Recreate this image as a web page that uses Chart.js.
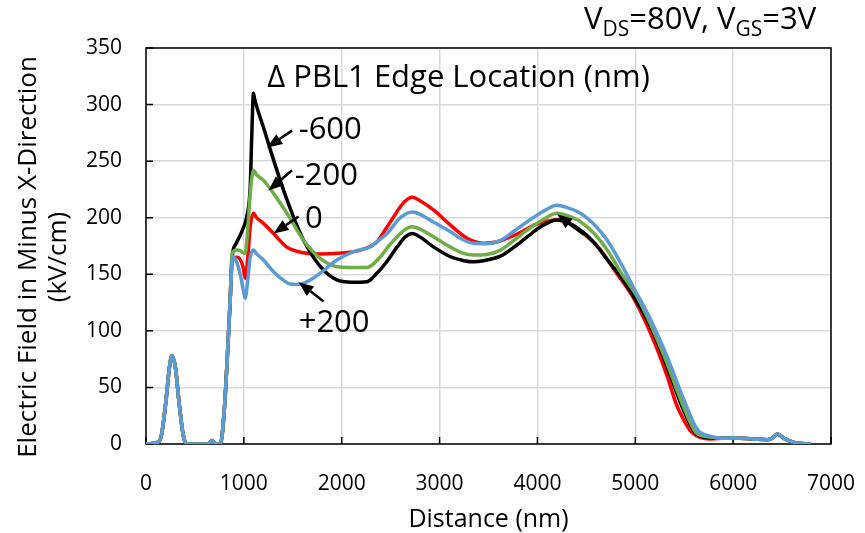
<!DOCTYPE html>
<html>
<head>
<meta charset="utf-8">
<script src="https://cdn.jsdelivr.net/npm/chart.js@4.4.0/dist/chart.umd.min.js"></script>
<style>
  html, body { margin: 0; padding: 0; background: #fff; }
  #wrap { width: 865px; height: 533px; position: relative; }
</style>
</head>
<body>
<div id="wrap"><canvas id="chart"></canvas></div>
<script>
// shared part of the profile (all four curves sit on top of each other here)
const commonX = [0, 100, 150, 200, 240, 264, 300, 340, 380, 417, 500, 640, 673, 710, 760, 800, 830, 860];
const commonY = [0, 1, 5, 35, 68, 78, 68, 35, 8, 0, 0, 0, 3, 0, 0, 30, 75, 127];
const tailX = [5900, 6008, 6200, 6350, 6400, 6452, 6520, 6622, 6793];
const tailY = [5, 5.3, 4.5, 3.8, 5, 8.8, 5, 1.4, 0];

// Δ PBL1 = -600
const blackX = [880, 920, 980, 1030, 1065, 1080, 1098, 1110, 1150, 1200, 1300, 1440, 1610, 1780, 1950, 2100, 2258, 2360, 2450, 2565, 2650, 2719, 2800, 2941, 3111, 3250, 3349, 3450, 3622, 3760, 3895, 4050, 4201, 4300, 4440, 4580, 4713, 4850, 5000, 5156, 5326, 5497, 5620, 5700, 5770];
const blackY = [165, 177, 188, 201, 227, 270, 310, 305, 293, 280, 252, 216, 180, 157, 145, 143, 143.5, 151, 160, 174, 183, 186, 183, 174, 165.5, 162, 161, 162, 166, 174, 183, 193, 198, 196, 189, 178, 163, 148, 128, 104, 68, 29, 9, 6, 5.5];
// Δ PBL1 = -200
const greenX = [880, 930, 963, 990, 1014, 1040, 1065, 1098, 1130, 1201, 1303, 1440, 1610, 1781, 1951, 2100, 2258, 2395, 2480, 2565, 2640, 2719, 2800, 2941, 3111, 3230, 3349, 3480, 3622, 3760, 3895, 4050, 4201, 4300, 4440, 4580, 4713, 4850, 5020, 5156, 5326, 5497, 5620, 5700, 5770];
const greenY = [168.5, 171.4, 171, 169, 168.5, 190, 221.5, 242, 238, 233, 221.5, 204, 180, 164, 156.7, 156, 156, 165.5, 175, 183, 189, 192, 190, 183, 174, 169, 167, 167.5, 171.4, 180, 189, 198, 204, 202, 196.4, 186, 171.5, 152, 130, 106, 71, 32, 10, 7, 6];
// Δ PBL1 = 0
const redX = [880, 930, 963, 990, 1014, 1040, 1065, 1098, 1130, 1201, 1303, 1440, 1610, 1780, 1951, 2190, 2361, 2450, 2531, 2620, 2719, 2800, 2941, 3111, 3281, 3451, 3600, 3724, 3850, 3963, 4100, 4201, 4300, 4372, 4500, 4645, 4800, 4975, 5156, 5326, 5420, 5497, 5560, 5633, 5770];
const redY = [163, 165, 163, 157, 146.5, 165, 192, 204, 200, 195, 186, 174, 169, 168, 168.5, 171.4, 178.8, 190, 200.8, 212, 218, 215, 206.7, 193.5, 181.8, 177.4, 179, 183, 188, 193.5, 197, 198, 196, 192, 184, 171.5, 152, 130, 98, 60, 35, 21, 12, 7, 4.5];
// Δ PBL1 = +200
const blueX = [880, 894, 930, 963, 990, 1014, 1040, 1065, 1098, 1130, 1201, 1303, 1400, 1474, 1540, 1610, 1700, 1781, 1951, 2121, 2292, 2380, 2463, 2600, 2719, 2800, 2941, 3111, 3230, 3349, 3480, 3622, 3760, 3895, 4050, 4201, 4300, 4440, 4580, 4713, 4850, 4990, 5156, 5326, 5497, 5633, 5770];
const blueY = [160, 165.5, 160, 150, 138, 128.8, 145, 165, 171.4, 168, 162.6, 152.3, 145, 141.4, 141, 142, 146, 151, 162.6, 170, 174.3, 180, 186, 200, 205, 203, 196, 187.6, 181, 177.4, 177, 180, 188, 196.4, 205, 211, 209, 204, 194, 180, 160, 137, 110, 77, 39, 13, 6.7];

const xTicks = [0, 1000, 2000, 3000, 4000, 5000, 6000, 7000];
const yTicks = [0, 50, 100, 150, 200, 250, 300, 350];

const FONT = "'Open Sans', sans-serif";

function series(xs, ys) {
  const xa = commonX.concat(xs, tailX);
  const ya = commonY.concat(ys, tailY);
  return xa.map((v, i) => ({ x: v, y: ya[i] }));
}

function line(label, xs, ys, color) {
  return {
    label: label,
    data: series(xs, ys),
    borderColor: color,
    borderWidth: 3.5,
    pointRadius: 0,
    fill: false,
    cubicInterpolationMode: 'monotone'
  };
}

// label text and arrows, placed in data units
const notes = [
  { text: '-600', x: 1560, y: 277 },
  { text: '-200', x: 1520, y: 237 },
  { text: '0', x: 1625, y: 199 },
  { text: '+200', x: 1560, y: 107 }
];
const arrows = [
  [1492, 277, 1239, 262],
  [1492, 242, 1252, 224],
  [1559, 201, 1303, 186],
  [1815, 126, 1559, 143],
  [4474, 185, 4202, 203]
];

function drawArrow(ctx, x1, y1, x2, y2) {
  const ang = Math.atan2(y2 - y1, x2 - x1);
  const hl = 15, hw = 6;
  const bx = x2 - hl * Math.cos(ang), by = y2 - hl * Math.sin(ang);
  ctx.beginPath();
  ctx.moveTo(x1, y1);
  ctx.lineTo(bx, by);
  ctx.stroke();
  ctx.beginPath();
  ctx.moveTo(x2, y2);
  ctx.lineTo(bx + hw * Math.sin(ang), by - hw * Math.cos(ang));
  ctx.lineTo(bx - hw * Math.sin(ang), by + hw * Math.cos(ang));
  ctx.closePath();
  ctx.fill();
}

const frame = {
  id: 'frame',
  beforeDatasetsDraw(chart) {
    const { ctx, chartArea: a, scales: { x, y } } = chart;
    ctx.save();
    ctx.strokeStyle = '#000';
    ctx.lineWidth = 1.5;
    ctx.beginPath();
    xTicks.forEach(v => {
      const px = x.getPixelForValue(v);
      ctx.moveTo(px, a.bottom);
      ctx.lineTo(px, a.bottom - 7);
    });
    yTicks.forEach(v => {
      const py = y.getPixelForValue(v);
      ctx.moveTo(a.left, py);
      ctx.lineTo(a.left + 7, py);
    });
    ctx.stroke();
    ctx.strokeRect(a.left, a.top, a.right - a.left, a.bottom - a.top);

    // axis titles
    ctx.fillStyle = '#000';
    ctx.textBaseline = 'alphabetic';
    ctx.textAlign = 'center';
    ctx.font = '25px ' + FONT;
    ctx.fillText('Distance (nm)', (a.left + a.right) / 2, 527);
    ctx.font = '26px ' + FONT;
    [['Electric Field in Minus X-Direction', 36], ['(kV/cm)', 66]].forEach(t => {
      ctx.save();
      ctx.translate(t[1], 257);
      ctx.rotate(-Math.PI / 2);
      ctx.fillText(t[0], 0, 0);
      ctx.restore();
    });
    ctx.restore();
  },
  afterDatasetsDraw(chart) {
    const { ctx, scales: { x, y } } = chart;
    ctx.save();
    ctx.fillStyle = '#000';
    ctx.strokeStyle = '#000';
    ctx.lineWidth = 2.5;
    arrows.forEach(a => drawArrow(ctx, x.getPixelForValue(a[0]), y.getPixelForValue(a[1]),
      x.getPixelForValue(a[2]), y.getPixelForValue(a[3])));

    ctx.textBaseline = 'middle';
    ctx.textAlign = 'left';
    ctx.font = '31px ' + FONT;
    notes.forEach(n => ctx.fillText(n.text, x.getPixelForValue(n.x), y.getPixelForValue(n.y)));
    ctx.fillText('\u0394 PBL1 Edge Location (nm)', x.getPixelForValue(1239), y.getPixelForValue(323));

    // bias condition, top right
    ctx.textBaseline = 'alphabetic';
    let px = 584;
    const base = 29;
    const parts = [['V', 0], ['DS', 1], ['=80V, V', 0], ['GS', 1], ['=3V', 0]];
    parts.forEach(p => {
      ctx.font = (p[1] ? '21px ' : '31px ') + FONT;
      ctx.fillText(p[0], px, base + (p[1] ? 7 : 0));
      px += ctx.measureText(p[0]).width;
    });
    ctx.restore();
  }
};

new Chart(document.getElementById('chart'), {
  type: 'line',
  data: {
    datasets: [
      line('+200', blueX, blueY, '#5B9BD5'),
      line('-200', greenX, greenY, '#70AD47'),
      line('-600', blackX, blackY, '#000000'),
      line('0', redX, redY, '#FF0000')
    ]
  },
  options: {
    responsive: true,
    maintainAspectRatio: false,
    animation: false,
    layout: { padding: { top: 48, right: 34, left: 0, bottom: 0 } },
    plugins: { legend: { display: false }, tooltip: { enabled: false } },
    scales: {
      x: {
        type: 'linear',
        min: 0, max: 7000,
        afterFit: s => { s.height = 89; s.paddingLeft = 0; s.paddingRight = 0; },
        afterBuildTicks: s => { s.ticks = xTicks.map(v => ({ value: v })); },
        grid: { color: '#d9d9d9', lineWidth: 1.5, drawTicks: false },
        border: { display: false },
        ticks: { color: '#000', font: { family: FONT, size: 21 }, padding: 27, maxRotation: 0, callback: v => String(v) }
      },
      y: {
        min: 0, max: 350,
        afterFit: s => { s.width = 146; },
        afterBuildTicks: s => { s.ticks = yTicks.map(v => ({ value: v })); },
        grid: { color: '#d9d9d9', lineWidth: 1.5, drawTicks: false },
        border: { display: false },
        ticks: { color: '#000', font: { family: FONT, size: 21 }, padding: 24, callback: v => String(v) }
      }
    }
  },
  plugins: [frame]
});
</script>
</body>
</html>
